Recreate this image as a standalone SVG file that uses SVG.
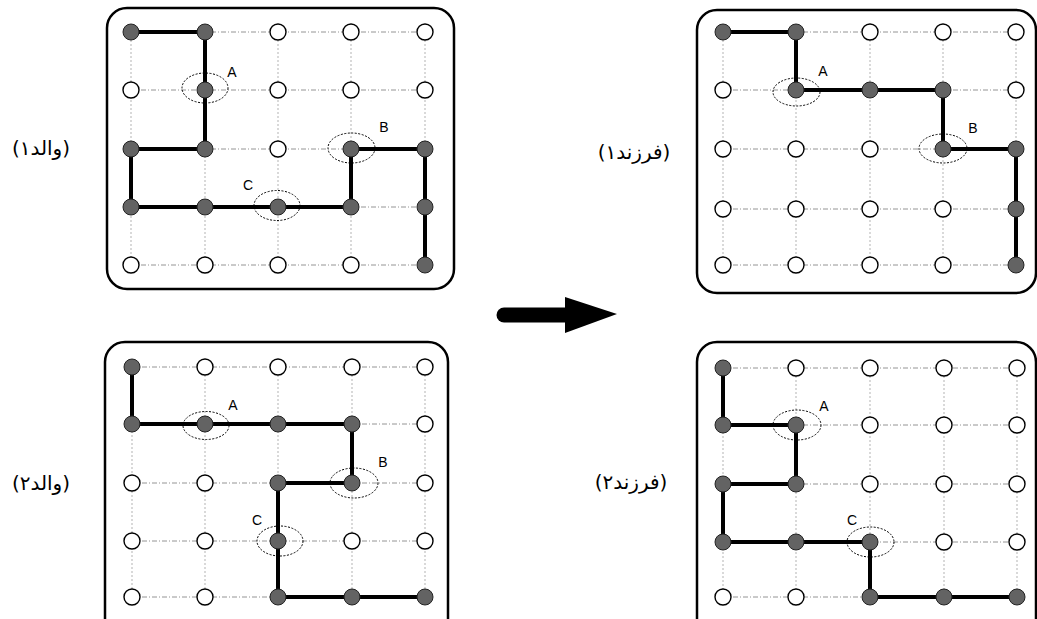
<svg xmlns="http://www.w3.org/2000/svg" width="1037" height="619" viewBox="0 0 1037 619">
<style>
.box{fill:#fff;stroke:#000;stroke-width:2.5}
.gh{stroke:#888;stroke-width:0.9;stroke-dasharray:5 2 1 2;fill:none}
.gv{stroke:#aaa;stroke-width:0.9;stroke-dasharray:2 2;fill:none}
.path{stroke:#000;stroke-width:4;fill:none;stroke-linejoin:miter}
.f{fill:#636363;stroke:#222;stroke-width:1}
.e{fill:#fff;stroke:#000;stroke-width:1.4}
.ell{fill:none;stroke:#000;stroke-width:1;stroke-dasharray:2 1.5}
.lt{font-family:"Liberation Sans",Arial,sans-serif;font-size:14px;text-anchor:middle;fill:#000}
.fa{font-family:"DejaVu Sans","Noto Sans",sans-serif;font-size:20px;text-anchor:middle;fill:#000}
</style>
<rect width="1037" height="619" fill="#fff"/>

<g id="panel-parent1">
<rect class="box" x="107" y="8" width="347" height="281" rx="20"/>
<path class="gh" d="M131,32H425M131,90H425M131,149H425M131,207H425M131,265H425"/>
<path class="gv" d="M131,32V265M205,32V265M278,32V265M351,32V265M425,32V265"/>
<path class="path" d="M131,32H205V149H131V207H351V149H425V265"/>
<g class="f"><circle cx="131" cy="32" r="8"/><circle cx="205" cy="32" r="8"/><circle cx="205" cy="90" r="8"/><circle cx="131" cy="149" r="8"/><circle cx="205" cy="149" r="8"/><circle cx="131" cy="207" r="8"/><circle cx="205" cy="207" r="8"/><circle cx="278" cy="207" r="8"/><circle cx="351" cy="207" r="8"/><circle cx="351" cy="149" r="8"/><circle cx="425" cy="149" r="8"/><circle cx="425" cy="207" r="8"/><circle cx="425" cy="265" r="8"/></g>
<g class="e"><circle cx="278" cy="32" r="8"/><circle cx="351" cy="32" r="8"/><circle cx="425" cy="32" r="8"/><circle cx="131" cy="90" r="8"/><circle cx="278" cy="90" r="8"/><circle cx="351" cy="90" r="8"/><circle cx="425" cy="90" r="8"/><circle cx="278" cy="149" r="8"/><circle cx="131" cy="265" r="8"/><circle cx="205" cy="265" r="8"/><circle cx="278" cy="265" r="8"/><circle cx="351" cy="265" r="8"/></g>
<ellipse class="ell" cx="205" cy="88" rx="23" ry="15"/>
<ellipse class="ell" cx="351.5" cy="148" rx="23.5" ry="15"/>
<ellipse class="ell" cx="277" cy="205.5" rx="23" ry="15"/>
<text class="lt" x="232" y="77">A</text>
<text class="lt" x="384" y="132">B</text>
<text class="lt" x="248" y="190">C</text>
</g>

<g id="panel-child1">
<rect class="box" x="697" y="10" width="339" height="283" rx="20"/>
<path class="gh" d="M723,32H1016M723,90H1016M723,149H1016M723,209H1016M723,265H1016"/>
<path class="gv" d="M723,32V265M796,32V265M870,32V265M943,32V265M1016,32V265"/>
<path class="path" d="M723,32H796V90H943V149H1016V265"/>
<g class="f"><circle cx="723" cy="32" r="8"/><circle cx="796" cy="32" r="8"/><circle cx="796" cy="90" r="8"/><circle cx="870" cy="90" r="8"/><circle cx="943" cy="90" r="8"/><circle cx="943" cy="149" r="8"/><circle cx="1016" cy="149" r="8"/><circle cx="1016" cy="209" r="8"/><circle cx="1016" cy="265" r="8"/></g>
<g class="e"><circle cx="870" cy="32" r="8"/><circle cx="943" cy="32" r="8"/><circle cx="1016" cy="32" r="8"/><circle cx="723" cy="90" r="8"/><circle cx="1016" cy="90" r="8"/><circle cx="723" cy="149" r="8"/><circle cx="796" cy="149" r="8"/><circle cx="870" cy="149" r="8"/><circle cx="723" cy="209" r="8"/><circle cx="796" cy="209" r="8"/><circle cx="870" cy="209" r="8"/><circle cx="943" cy="209" r="8"/><circle cx="723" cy="265" r="8"/><circle cx="796" cy="265" r="8"/><circle cx="870" cy="265" r="8"/><circle cx="943" cy="265" r="8"/></g>
<ellipse class="ell" cx="796.5" cy="92" rx="23.5" ry="14"/>
<ellipse class="ell" cx="943" cy="148.5" rx="24" ry="14.5"/>
<text class="lt" x="823" y="76">A</text>
<text class="lt" x="973" y="133">B</text>
</g>

<g id="panel-parent2">
<rect class="box" x="105" y="342" width="343" height="300" rx="20"/>
<path class="gh" d="M132,367H425M132,424H425M132,483H425M132,541H425M132,597H425"/>
<path class="gv" d="M132,367V597M205,367V597M278,367V597M352,367V597M425,367V597"/>
<path class="path" d="M132,367V424H352V483H278V597H425"/>
<g class="f"><circle cx="132" cy="367" r="8"/><circle cx="132" cy="424" r="8"/><circle cx="205" cy="424" r="8"/><circle cx="278" cy="424" r="8"/><circle cx="352" cy="424" r="8"/><circle cx="352" cy="483" r="8"/><circle cx="278" cy="483" r="8"/><circle cx="278" cy="541" r="8"/><circle cx="278" cy="597" r="8"/><circle cx="352" cy="597" r="8"/><circle cx="425" cy="597" r="8"/></g>
<g class="e"><circle cx="205" cy="367" r="8"/><circle cx="278" cy="367" r="8"/><circle cx="352" cy="367" r="8"/><circle cx="425" cy="367" r="8"/><circle cx="425" cy="424" r="8"/><circle cx="132" cy="483" r="8"/><circle cx="205" cy="483" r="8"/><circle cx="425" cy="483" r="8"/><circle cx="132" cy="541" r="8"/><circle cx="205" cy="541" r="8"/><circle cx="352" cy="541" r="8"/><circle cx="425" cy="541" r="8"/><circle cx="132" cy="597" r="8"/><circle cx="205" cy="597" r="8"/></g>
<ellipse class="ell" cx="206" cy="425.5" rx="23" ry="14"/>
<ellipse class="ell" cx="354" cy="483" rx="24" ry="15"/>
<ellipse class="ell" cx="280" cy="541" rx="23" ry="15"/>
<text class="lt" x="233" y="410">A</text>
<text class="lt" x="383" y="467">B</text>
<text class="lt" x="257" y="525">C</text>
</g>

<g id="panel-child2">
<rect class="box" x="697" y="342" width="339" height="300" rx="20"/>
<path class="gh" d="M723,368H1017M723,425H1017M723,484H1017M723,542H1017M723,597H1017"/>
<path class="gv" d="M723,368V597M796,368V597M870,368V597M944,368V597M1017,368V597"/>
<path class="path" d="M723,368V425H796V484H723V542H870V597H1017"/>
<g class="f"><circle cx="723" cy="368" r="8"/><circle cx="723" cy="425" r="8"/><circle cx="796" cy="425" r="8"/><circle cx="796" cy="484" r="8"/><circle cx="723" cy="484" r="8"/><circle cx="723" cy="542" r="8"/><circle cx="796" cy="542" r="8"/><circle cx="870" cy="542" r="8"/><circle cx="870" cy="597" r="8"/><circle cx="944" cy="597" r="8"/><circle cx="1017" cy="597" r="8"/></g>
<g class="e"><circle cx="796" cy="368" r="8"/><circle cx="870" cy="368" r="8"/><circle cx="944" cy="368" r="8"/><circle cx="1017" cy="368" r="8"/><circle cx="870" cy="425" r="8"/><circle cx="944" cy="425" r="8"/><circle cx="1017" cy="425" r="8"/><circle cx="870" cy="484" r="8"/><circle cx="944" cy="484" r="8"/><circle cx="1017" cy="484" r="8"/><circle cx="944" cy="542" r="8"/><circle cx="1017" cy="542" r="8"/><circle cx="723" cy="597" r="8"/><circle cx="796" cy="597" r="8"/></g>
<ellipse class="ell" cx="797" cy="425" rx="24" ry="15"/>
<ellipse class="ell" cx="870.5" cy="542" rx="23.5" ry="15"/>
<text class="lt" x="824" y="411">A</text>
<text class="lt" x="852" y="525">C</text>
</g>

<g id="label-parent1"><text class="fa" x="41" y="155">(والد۱)</text></g>
<g id="label-parent2"><text class="fa" x="41" y="490">(والد۲)</text></g>
<g id="label-child1"><text class="fa" x="634" y="159">(فرزند۱)</text></g>
<g id="label-child2"><text class="fa" x="631" y="489">(فرزند۲)</text></g>

<g id="connectors">
<line x1="504" y1="315" x2="570" y2="315" stroke="#000" stroke-width="15" stroke-linecap="round"/>
<polygon points="565,297 617,314 565,333" fill="#000"/>
</g>
</svg>
